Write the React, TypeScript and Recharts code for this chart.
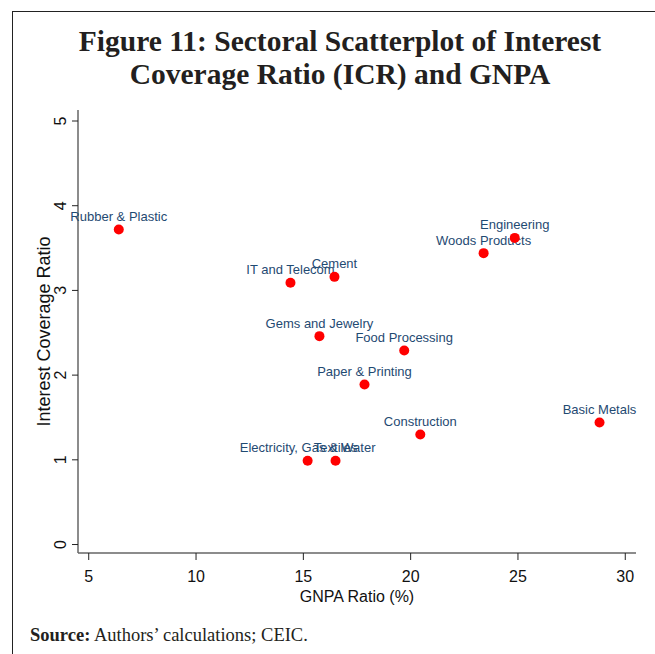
import React from "react";
import { ScatterChart, Scatter, XAxis, YAxis } from "recharts";

const sectors = [
  "Rubber & Plastic",
  "IT and Telecom",
  "Cement",
  "Woods Products",
  "Engineering",
  "Gems and Jewelry",
  "Food Processing",
  "Paper & Printing",
  "Construction",
  "Basic Metals",
  "Electricity, Gas & Water",
  "Textiles",
];
const gnpaRatio = [6.4, 14.4, 16.45, 23.4, 24.85, 15.75, 19.7, 17.85, 20.45, 28.8, 15.2, 16.5];
const icr = [3.72, 3.09, 3.16, 3.44, 3.62, 2.46, 2.29, 1.89, 1.3, 1.44, 0.99, 0.99];
const xTicks = [5, 10, 15, 20, 25, 30];
const yTicks = [0, 1, 2, 3, 4, 5];

const data = sectors.map((name, i) => ({ name, x: gnpaRatio[i], y: icr[i] }));

const LABEL_COLOR = "#1f4a72";

const PointShape = (props: any) => {
  const { cx, cy, payload } = props;
  if (cx == null || cy == null) return null;
  return (
    <g>
      <circle cx={cx} cy={cy} r={5} fill="#ff0000" />
      <text
        x={cx}
        y={cy - 13}
        textAnchor="middle"
        dominantBaseline="central"
        fontFamily="'Liberation Sans', Arial, sans-serif"
        fontSize={13}
        fill={LABEL_COLOR}
      >
        {payload.name}
      </text>
    </g>
  );
};

const YTick = (props: any) => {
  const { x, y, payload } = props;
  const tx = x - 9;
  return (
    <text
      x={tx}
      y={y}
      transform={`rotate(-90, ${tx}, ${y})`}
      textAnchor="middle"
      dominantBaseline="central"
      fontFamily="'Liberation Sans', Arial, sans-serif"
      fontSize={16}
      fill="#111"
    >
      {payload.value}
    </text>
  );
};

const XTick = (props: any) => {
  const { x, y, payload } = props;
  return (
    <text
      x={x}
      y={y + 14}
      textAnchor="middle"
      dominantBaseline="central"
      fontFamily="'Liberation Sans', Arial, sans-serif"
      fontSize={16}
      fill="#111"
    >
      {payload.value}
    </text>
  );
};

export default function App() {
  return (
    <div
      style={{
        position: "absolute",
        left: 0,
        top: 0,
        width: 655,
        height: 654,
        background: "#fff",
        overflow: "hidden",
      }}
    >
      <div
        style={{
          position: "absolute",
          left: 12,
          top: 11,
          width: 700,
          height: 700,
          borderLeft: "1.5px solid #222",
          borderTop: "1.5px solid #222",
        }}
      />
      <div
        style={{
          position: "absolute",
          left: 0,
          top: 25,
          width: 680,
          textAlign: "center",
          fontFamily: "'Liberation Serif', 'Times New Roman', serif",
          fontWeight: "bold",
          fontSize: 29.5,
          lineHeight: "33px",
          color: "#231f20",
        }}
      >
        Figure 11: Sectoral Scatterplot of Interest
        <br />
        Coverage Ratio (ICR) and GNPA
      </div>
      <div style={{ position: "absolute", left: 0, top: 0 }}>
        <ScatterChart
          width={655}
          height={654}
          margin={{ top: 110, right: 19, left: 0, bottom: 0 }}
        >
          <XAxis
            type="number"
            dataKey="x"
            domain={[4.5, 30.5]}
            ticks={xTicks}
            height={101}
            stroke="#666"
            strokeWidth={1.5}
            tickLine={{ stroke: "#222", strokeWidth: 1 }}
            tickSize={7}
            tick={<XTick />}
            label={{
              value: "GNPA Ratio (%)",
              position: "insideTop",
              offset: 38,
              style: {
                fontFamily: "'Liberation Sans', Arial, sans-serif",
                fontSize: 16,
                fill: "#111",
              },
            }}
          />
          <YAxis
            type="number"
            dataKey="y"
            domain={[-0.1, 5.13]}
            ticks={yTicks}
            width={78}
            stroke="#666"
            strokeWidth={1.5}
            tickLine={{ stroke: "#222", strokeWidth: 1 }}
            tickSize={6}
            tick={<YTick />}
            label={{
              value: "Interest Coverage Ratio",
              angle: -90,
              position: "insideLeft",
              offset: 44,
              style: {
                fontFamily: "'Liberation Sans', Arial, sans-serif",
                fontSize: 18,
                fill: "#111",
                textAnchor: "middle",
              },
            }}
          />
          <Scatter data={data} shape={<PointShape />} isAnimationActive={false} />
        </ScatterChart>
      </div>
      <div
        style={{
          position: "absolute",
          left: 30,
          top: 625,
          fontFamily: "'Liberation Serif', 'Times New Roman', serif",
          fontSize: 18.5,
          color: "#231f20",
          whiteSpace: "nowrap",
        }}
      >
        <b>Source:</b> Authors’ calculations; CEIC.
      </div>
    </div>
  );
}
